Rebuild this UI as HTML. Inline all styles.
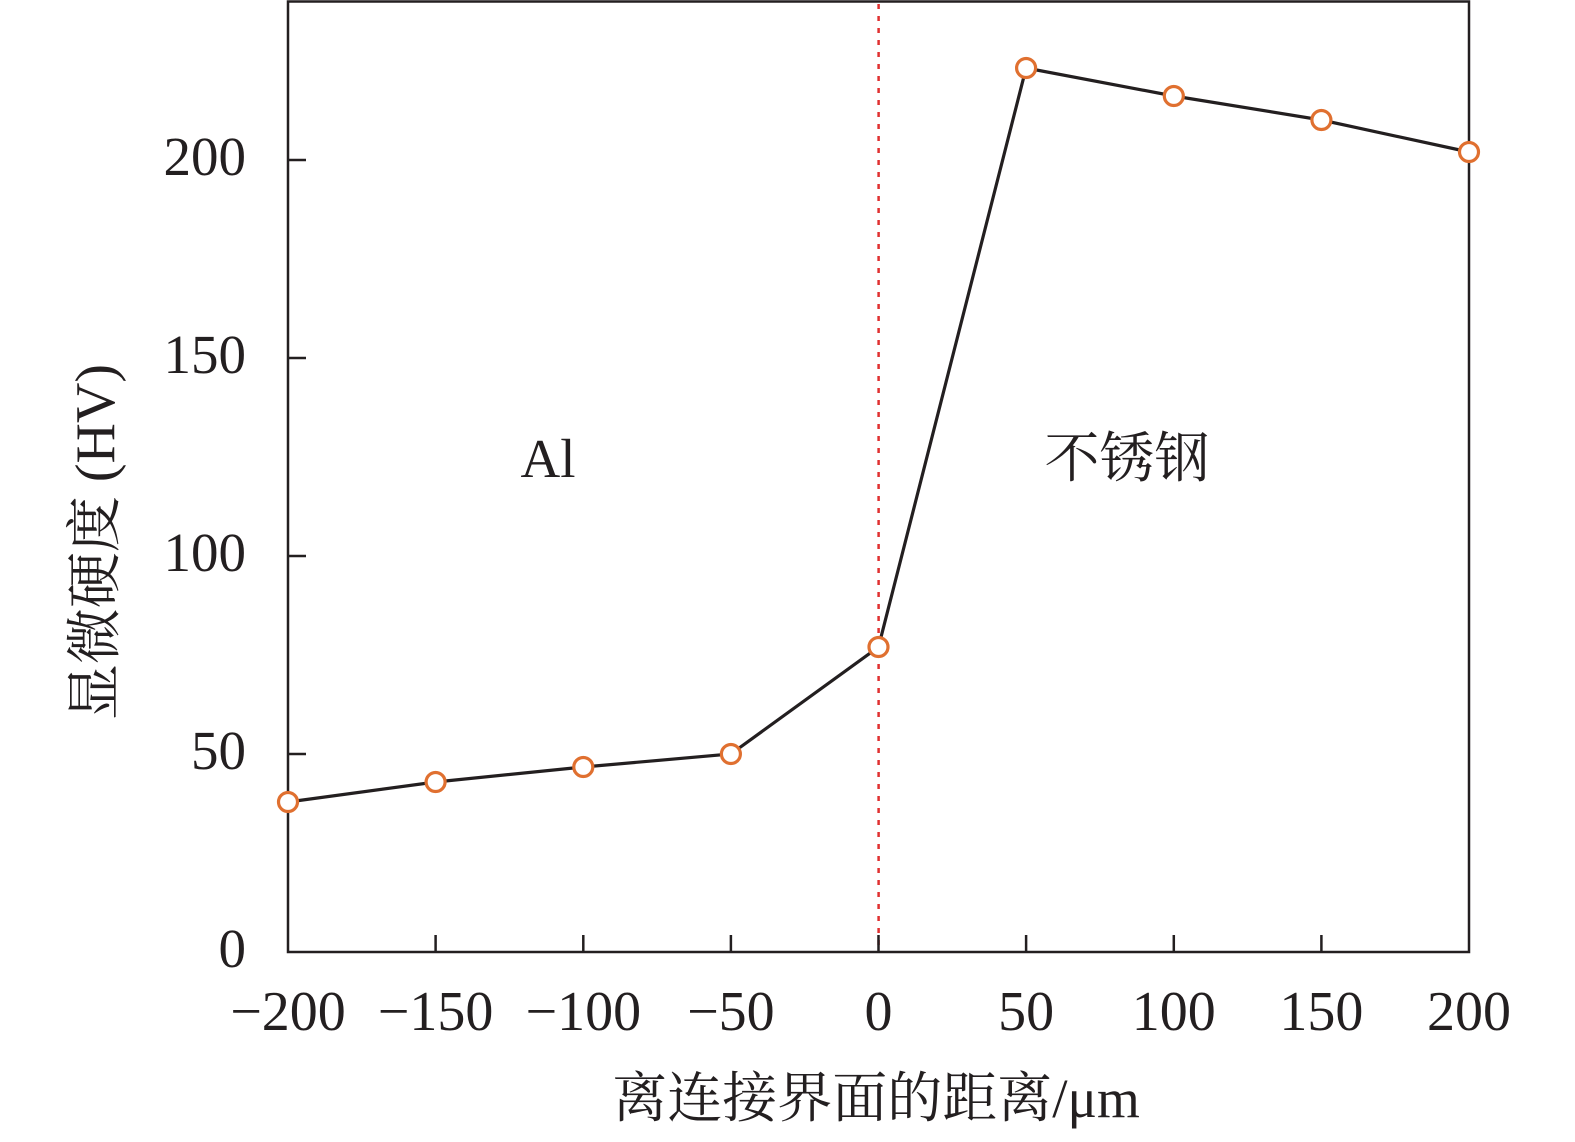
<!DOCTYPE html>
<html><head><meta charset="utf-8"><style>body{margin:0;background:#fff}</style></head><body>
<svg width="1575" height="1137" xmlns="http://www.w3.org/2000/svg" font-family="'Liberation Serif','Noto Serif CJK SC',serif" fill="#231f20">
<rect x="288" y="1.5" width="1181" height="950.5" fill="none" stroke="#231f20" stroke-width="2.5"/>
<line x1="878.6" y1="4" x2="878.6" y2="950" stroke="#e03030" stroke-width="2.5" stroke-dasharray="5,7"/>
<g stroke="#231f20" stroke-width="2.5">
<line x1="288" y1="754" x2="306" y2="754"/><line x1="288" y1="556" x2="306" y2="556"/><line x1="288" y1="358" x2="306" y2="358"/><line x1="288" y1="160" x2="306" y2="160"/>
<line x1="435.6" y1="952" x2="435.6" y2="935"/><line x1="583.3" y1="952" x2="583.3" y2="935"/><line x1="730.9" y1="952" x2="730.9" y2="935"/><line x1="878.5" y1="952" x2="878.5" y2="935"/><line x1="1026.1" y1="952" x2="1026.1" y2="935"/><line x1="1173.8" y1="952" x2="1173.8" y2="935"/><line x1="1321.4" y1="952" x2="1321.4" y2="935"/>
</g>
<polyline fill="none" stroke="#231f20" stroke-width="3.2" points="288,802 435.6,782 583.3,767 730.9,754 878.5,647 1026.1,68 1173.8,96 1321.4,120 1469,152"/>
<g fill="#fff" stroke="#e07030" stroke-width="3.2">
<circle cx="288" cy="802" r="9.5"/><circle cx="435.6" cy="782" r="9.5"/><circle cx="583.3" cy="767" r="9.5"/><circle cx="730.9" cy="754" r="9.5"/><circle cx="878.5" cy="647" r="9.5"/><circle cx="1026.1" cy="68" r="9.5"/><circle cx="1173.8" cy="96" r="9.5"/><circle cx="1321.4" cy="120" r="9.5"/><circle cx="1469" cy="152" r="9.5"/>
</g>
<g font-size="55" text-anchor="end">
<text x="246" y="967">0</text><text x="246" y="769">50</text><text x="246" y="571">100</text><text x="246" y="373">150</text><text x="246" y="175">200</text>
</g>
<g font-size="56" text-anchor="middle">
<text x="288" y="1030">−200</text><text x="435.6" y="1030">−150</text><text x="583.3" y="1030">−100</text><text x="730.9" y="1030">−50</text><text x="878.5" y="1030">0</text><text x="1026.1" y="1030">50</text><text x="1173.8" y="1030">100</text><text x="1321.4" y="1030">150</text><text x="1469" y="1030">200</text>
</g>
<text x="548" y="477" font-size="55" text-anchor="middle">Al</text>
<text x="1127" y="477" font-size="55" text-anchor="middle">不锈钢</text>
<text x="876" y="1117" font-size="55" text-anchor="middle">离连接界面的距离/μm</text>
<text transform="translate(114,542) rotate(-90)" font-size="56" text-anchor="middle">显微硬度 (HV)</text>
</svg>
</body></html>
